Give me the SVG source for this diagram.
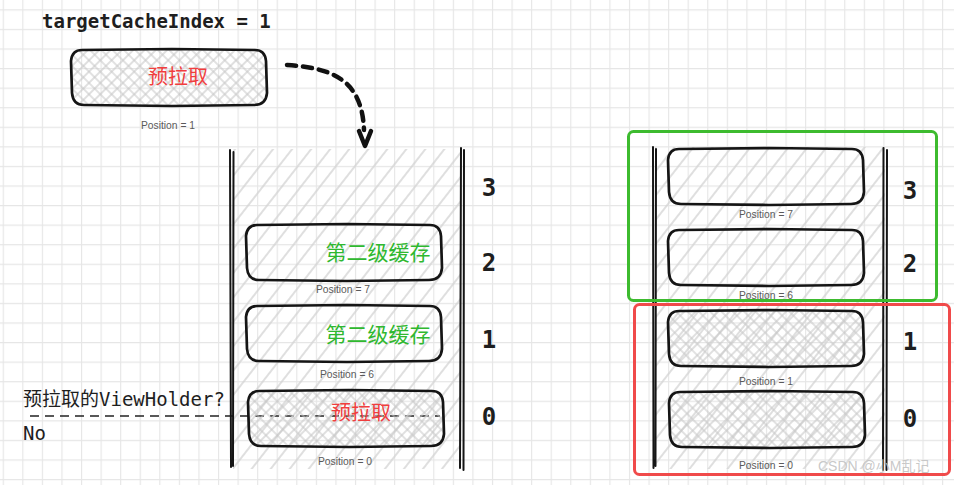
<svg xmlns="http://www.w3.org/2000/svg" width="954" height="485" viewBox="0 0 954 485">
<style>
.mono{font-family:"DejaVu Sans Mono","Noto Sans CJK SC",monospace;fill:#1e1e1e}
.num{font-family:"DejaVu Sans Mono",monospace;font-size:24px;font-weight:bold;fill:#1e1e1e;text-anchor:middle}
.pos{font-family:"Liberation Sans",Arial,sans-serif;font-size:10.3px;fill:#5a5a5a;text-anchor:middle}
.cjk-red{font-family:"Noto Sans CJK SC",sans-serif;font-size:20px;fill:#f03e3e;text-anchor:middle}
.cjk-green{font-family:"Noto Sans CJK SC",sans-serif;font-size:21px;fill:#2fb82f;text-anchor:middle}
.box{fill:none;stroke:#151515;stroke-width:2.7;stroke-linejoin:round}
.boxh{fill:url(#xh);stroke:#151515;stroke-width:2.7;stroke-linejoin:round}
.rail{stroke:#151515;stroke-width:2;fill:none;stroke-linecap:round}
</style>
<defs>
<pattern id="grid" x="2.7" y="9.3" width="19.57" height="19.57" patternUnits="userSpaceOnUse">
<path d="M0.5 0V19.57M0 0.5H19.57" stroke="#e6e6e6" stroke-width="1.3" fill="none"/>
</pattern>
<pattern id="diag" width="15" height="15" patternUnits="userSpaceOnUse" patternTransform="rotate(38)">
<line x1="7" y1="0" x2="7" y2="15" stroke="#d4d4d4" stroke-width="1.5"/>
</pattern>
<pattern id="xh" width="8" height="8" patternUnits="userSpaceOnUse" patternTransform="rotate(45)">
<path d="M4 0V8M0 4H8" stroke="#c6c6c6" stroke-width="1.1" fill="none"/>
</pattern>
<path id="bx" d="M10,1 L100,0 L183,1 Q193,1 194,12 L195,44 Q194,56 182,56 L100,57 L12,56 Q1,56 0,44 L-1,12 Q0,1 10,1 Z"/>
</defs>

<rect width="954" height="485" fill="#ffffff"/>
<rect width="954" height="485" fill="url(#grid)"/>

<text class="mono" x="42" y="28" font-size="19" font-weight="bold">targetCacheIndex = 1</text>

<g id="prefetch-top">
<use href="#bx" class="boxh" transform="translate(72,49)"/>
<text class="cjk-red" x="178" y="84">预拉取</text>
<text class="pos" x="168" y="129">Position = 1</text>
</g>

<g id="connectors">
<path d="M287 65 C 330 68, 362 78, 364 130" fill="none" stroke="#111" stroke-width="4.5" stroke-dasharray="9 7" stroke-linecap="round"/>
<path d="M359 131 L365 146 L371 131" fill="none" stroke="#111" stroke-width="4.5" stroke-linecap="round" stroke-linejoin="round"/>
<line x1="30" y1="416" x2="440" y2="416" stroke="#222" stroke-width="1.6" stroke-dasharray="9 6"/>
</g>

<g id="left-stack">
<rect x="233" y="149" width="228" height="320" fill="url(#diag)"/>
<path class="rail" d="M230 150 L231 467 M233.5 152 L233 466"/>
<path class="rail" d="M461 148 L460 468 M464 150 L463.5 470"/>
</g>

<g id="left-slot-2">
<use href="#bx" class="box" transform="translate(247,224)"/>
<text class="cjk-green" x="378" y="260">第二级缓存</text>
<text class="pos" x="343" y="293">Position = 7</text>
</g>
<g id="left-slot-1">
<use href="#bx" class="box" transform="translate(247,305)"/>
<text class="cjk-green" x="378" y="342">第二级缓存</text>
<text class="pos" x="347" y="378">Position = 6</text>
</g>
<g id="left-slot-0">
<use href="#bx" class="boxh" transform="translate(249,390)"/>
<text class="cjk-red" x="361" y="420">预拉取</text>
<text class="pos" x="345" y="465">Position = 0</text>
</g>

<g id="left-indices">
<text class="num" x="489" y="196">3</text>
<text class="num" x="489" y="271">2</text>
<text class="num" x="489" y="348">1</text>
<text class="num" x="489" y="425">0</text>
</g>

<g id="question">
<text class="mono" x="23" y="406" font-size="19">预拉取的ViewHolder?</text>
<text class="mono" x="23" y="440" font-size="19">No</text>
</g>

<g id="right-stack">
<rect x="655" y="147" width="230" height="322" fill="url(#diag)"/>
<path class="rail" d="M653 147 L653.5 468 M656 149 L655.5 466"/>
<path class="rail" d="M883.5 148 L883 470 M887 150 L886.5 470"/>
</g>

<g id="right-slot-3">
<use href="#bx" class="box" transform="translate(669,148)"/>
<text class="pos" x="766" y="218">Position = 7</text>
</g>
<g id="right-slot-2">
<use href="#bx" class="box" transform="translate(669,229)"/>
<text class="pos" x="766" y="299">Position = 6</text>
</g>
<g id="right-slot-1">
<use href="#bx" class="boxh" transform="translate(669,310)"/>
<text class="pos" x="766" y="385">Position = 1</text>
</g>
<g id="right-slot-0">
<use href="#bx" class="boxh" transform="translate(670,391)"/>
<text class="pos" x="766" y="469">Position = 0</text>
</g>

<g id="right-indices">
<text class="num" x="910" y="199">3</text>
<text class="num" x="910" y="272">2</text>
<text class="num" x="910" y="350">1</text>
<text class="num" x="910" y="427">0</text>
</g>

<g id="green-frame">
<rect x="628.5" y="131.5" width="308" height="169" rx="5" fill="none" stroke="#3dbb2f" stroke-width="3"/>
</g>
<g id="red-frame">
<rect x="634.5" y="304.5" width="315" height="170" rx="5" fill="none" stroke="#f04a4a" stroke-width="3"/>
</g>

<text x="818" y="471" font-family="'Liberation Sans','Noto Sans CJK SC',sans-serif" font-size="14" fill="#c2c2c2" fill-opacity="0.9">CSDN @小M乱记</text>
</svg>
